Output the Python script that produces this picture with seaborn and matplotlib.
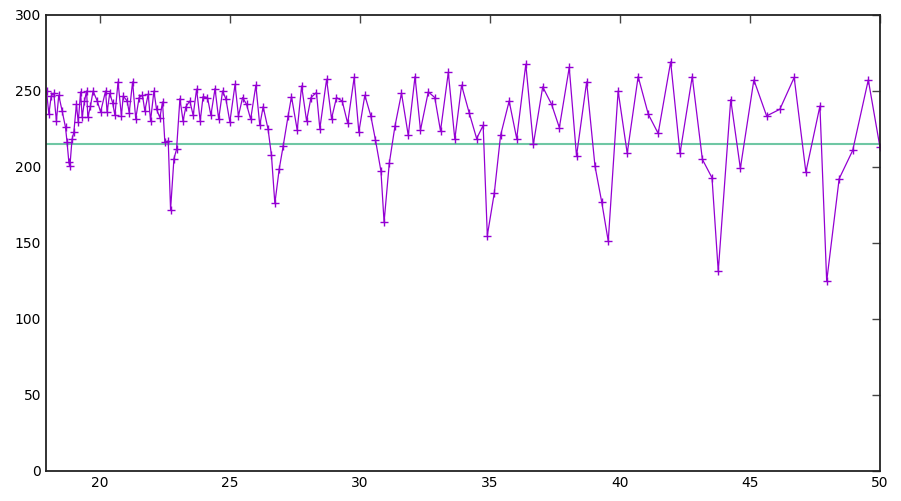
import numpy as np
import pandas as pd
import matplotlib
matplotlib.use("Agg")
import matplotlib.pyplot as plt
import seaborn as sns

# ===============================
# Data
# ===============================
x_vals = [17.95, 18.04, 18.13, 18.23, 18.33, 18.42, 18.55, 18.68, 18.74, 18.81,
          18.85, 18.93, 19.00, 19.10, 19.17, 19.26, 19.32, 19.41, 19.49, 19.54,
          19.64, 19.74, 19.90, 20.03, 20.22, 20.28, 20.38, 20.49, 20.58, 20.70,
          20.83, 20.90, 21.05, 21.13, 21.26, 21.38, 21.51, 21.64, 21.73, 21.86,
          21.95, 22.08, 22.18, 22.31, 22.41, 22.50, 22.63, 22.72, 22.85, 22.95,
          23.08, 23.20, 23.31, 23.46, 23.59, 23.72, 23.86, 23.97, 24.14, 24.27,
          24.43, 24.57, 24.72, 24.85, 25.00, 25.20, 25.33, 25.49, 25.64, 25.80,
          26.00, 26.15, 26.28, 26.47, 26.60, 26.73, 26.90, 27.05, 27.24, 27.37,
          27.59, 27.76, 27.95, 28.12, 28.33, 28.46, 28.72, 28.91, 29.10, 29.32,
          29.53, 29.78, 29.96, 30.19, 30.42, 30.60, 30.81, 30.93, 31.13, 31.35,
          31.60, 31.86, 32.12, 32.33, 32.63, 32.88, 33.10, 33.40, 33.65, 33.91,
          34.20, 34.49, 34.74, 34.90, 35.17, 35.41, 35.74, 36.03, 36.38, 36.67,
          37.03, 37.37, 37.67, 38.05, 38.33, 38.72, 39.04, 39.30, 39.55, 39.93,
          40.28, 40.70, 41.09, 41.47, 41.95, 42.31, 42.78, 43.17, 43.54, 43.78,
          44.26, 44.63, 45.15, 45.64, 46.15, 46.70, 47.15, 47.69, 47.95, 48.43,
          48.95, 49.55, 50.00]

y_vals = [250.0, 234.7, 246.7, 248.5, 230.3, 247.2, 236.9, 226.1, 216.2, 203.0,
          200.6, 218.2, 222.8, 241.3, 229.4, 249.4, 232.7, 243.4, 250.0, 232.7,
          240.1, 250.0, 243.4, 236.2, 250.0, 236.0, 248.5, 242.4, 234.0, 256.0,
          233.6, 246.7, 243.4, 235.8, 256.0, 231.8, 245.7, 247.2, 236.9, 247.9,
          230.3, 250.0, 238.0, 232.5, 242.8, 216.4, 217.1, 172.0, 205.5, 211.6,
          245.0, 230.3, 239.7, 243.4, 234.0, 251.2, 230.3, 246.3, 245.7, 234.0,
          251.6, 231.4, 250.0, 244.6, 229.6, 254.4, 233.6, 245.7, 241.3, 231.4,
          253.8, 227.4, 239.7, 224.8, 207.6, 176.0, 198.9, 213.8, 233.6, 246.3,
          224.3, 253.3, 230.3, 245.7, 249.0, 225.2, 257.7, 231.8, 245.7, 243.4,
          228.7, 258.9, 223.0, 247.2, 233.6, 217.7, 197.3, 163.7, 202.4, 227.0,
          248.5, 220.8, 259.5, 224.3, 249.4, 245.7, 223.7, 262.2, 218.2, 253.8,
          235.8, 218.7, 227.4, 154.9, 183.1, 220.8, 243.4, 218.7, 267.6, 214.9,
          252.7, 241.3, 225.9, 265.5, 207.2, 256.0, 200.6, 176.9, 151.2, 250.0,
          209.0, 259.5, 234.7, 222.1, 269.2, 209.0, 259.5, 205.0, 192.9, 131.4,
          244.4, 199.1, 257.3, 233.6, 238.0, 258.9, 196.6, 240.1, 124.8, 192.3,
          210.9, 257.3, 212.9]

mean_level = 215

x_ticks = [20, 25, 30, 35, 40, 45, 50]
y_ticks = [0, 50, 100, 150, 200, 250, 300]

df = pd.DataFrame({"x": x_vals, "y": y_vals})

# ===============================
# Plot (gnuplot-like look)
# ===============================
sns.set_style("white")
plt.rcParams["font.family"] = ["DejaVu Sans"]

fig = plt.figure(figsize=(9.01, 5.01), dpi=100)
ax = fig.add_axes([46 / 901, 30 / 501, 834 / 901, 456 / 501])

sns.lineplot(data=df, x="x", y="y", sort=False, ax=ax, color="#9400d3",
             linewidth=0.9, marker="+", markersize=6, markeredgewidth=1.0,
             markeredgecolor="#9400d3")
ax.axhline(mean_level, color="#6fc7a4", linewidth=1.5, zorder=1)

ax.set_xlim(17.93, 50)
ax.set_ylim(0, 300)
ax.set_xticks(x_ticks)
ax.set_yticks(y_ticks)
ax.set_xlabel("")
ax.set_ylabel("")

for s in ax.spines.values():
    s.set_color("#222222")
    s.set_linewidth(1.3)
ax.tick_params(direction="in", length=6, width=1, top=True, right=True,
               labelsize=10, colors="#444444", labelcolor="black")

fig.savefig("out.png", dpi=100)
